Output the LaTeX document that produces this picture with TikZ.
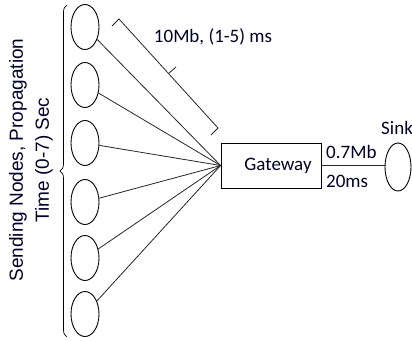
\documentclass[tikz,border=0pt]{standalone}
\usepackage{fontspec}
\setmainfont{Carlito}
\newfontfamily\arialf{Liberation Sans}
\usetikzlibrary{shapes.geometric,decorations.pathreplacing}
\begin{document}
\begin{tikzpicture}[x=1pt,y=-1pt,
  ell/.style={draw, ellipse, line width=0.9pt, minimum width=28pt, minimum height=45pt, inner sep=0pt},
  link/.style={draw, line width=0.8pt, black!85},
  lbl/.style={font=\fontsize{19}{22}\selectfont, text=black!85!blue, inner sep=0pt},
  gwbox/.style={draw, line width=0.8pt, minimum width=100pt, minimum height=45pt, inner sep=0pt, font=\fontsize{19}{22}\selectfont, text=black!85!blue}]
\useasboundingbox (0,0) rectangle (412,340);
% sending nodes
\node[ell] (n1) at (85,27) {};
\node[ell] (n2) at (85,85) {};
\node[ell] (n3) at (85,143) {};
\node[ell] (n4) at (85,202) {};
\node[ell] (n5) at (85,258) {};
\node[ell] (n6) at (85,314) {};
% gateway
\node[gwbox] (gw) at (271,165.5) {\hspace*{14pt}Gateway};
% sink
\node[ell, minimum width=26pt, minimum height=48pt] (sink) at (398,167) {};
\node[lbl, anchor=west] (sinklbl) at (381,128) {Sink};
% links
\foreach \i in {1,...,6} \draw[link] (n\i) -- (gw.west);
\draw[link] (gw.east) -- (gw.east -| sink.west);
\node[lbl, anchor=west] (bw) at (326,152) {0.7Mb};
\node[lbl, anchor=west] (dl) at (326,181) {20ms};
% bracket
\coordinate (b1) at (112,26);
\coordinate (b2) at (119,19);
\coordinate (b3) at (218,128);
\coordinate (b4) at (211,135);
\coordinate (t1) at (168.5,73.5);
\coordinate (t2) at (176,67);
\draw[line width=0.8pt, black!85] (b1) -- (b2) -- (b3) -- (b4);
\draw[line width=0.8pt, black!85] (t1) -- (t2);
\node[lbl] (ll) at (213,37) {10Mb, (1-5) ms};
% brace
\coordinate (br1) at (67,337);
\coordinate (br2) at (67,5);
\draw[line width=0.7pt, decorate, decoration={brace, amplitude=7pt}] (br1) -- (br2);
\node[rotate=90, align=center, font=\arialf\fontsize{19}{26}\selectfont, text=black!85!blue, inner sep=0pt] (side) at (31,160) {Sending Nodes, Propagation\\Time (0-7) Sec};
\end{tikzpicture}
\end{document}
